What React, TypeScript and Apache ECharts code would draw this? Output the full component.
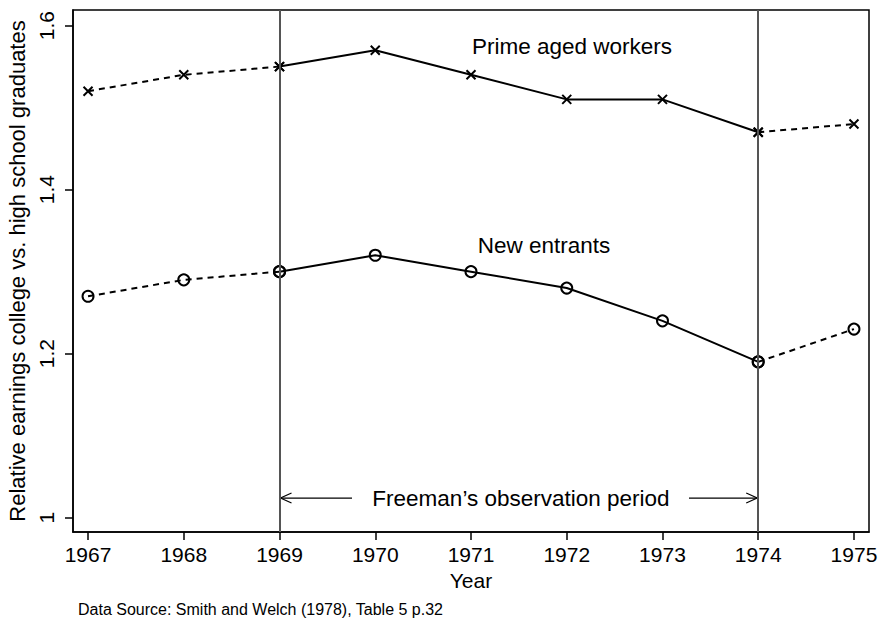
import React, { useEffect, useRef } from "react";
import * as echarts from "echarts";

const years = [1967, 1968, 1969, 1970, 1971, 1972, 1973, 1974, 1975];
const primeAged = [1.52, 1.54, 1.55, 1.57, 1.54, 1.51, 1.51, 1.47, 1.48];
const newEntrants = [1.27, 1.29, 1.3, 1.32, 1.3, 1.28, 1.24, 1.19, 1.23];
const yTicks = [1, 1.2, 1.4, 1.6];
const periodStart = 1969;
const periodEnd = 1974;

const FONT = "Liberation Sans, Arial, sans-serif";

function segments(values: number[], name: string, symbol: string, size: number, itemStyle: any) {
  const pts = years.map((y, i) => [y, values[i]]);
  const i0 = years.indexOf(periodStart);
  const i1 = years.indexOf(periodEnd);
  const parts = [
    { d: pts.slice(0, i0 + 1), type: [6, 5] as any },
    { d: pts.slice(i0, i1 + 1), type: "solid" },
    { d: pts.slice(i1), type: [6, 5] as any },
  ];
  return parts.map((p, k) => ({
    name: name + k,
    type: "line",
    data: p.d,
    symbol,
    symbolSize: size,
    showSymbol: true,
    z: 3,
    lineStyle: { color: "#000", width: 2, type: p.type },
    itemStyle,
  }));
}

export default function App() {
  const ref = useRef<HTMLDivElement>(null);
  useEffect(() => {
    document.body.style.margin = "0";
    const chart = echarts.init(ref.current!, null, { renderer: "svg" });
    const crossStyle = { color: "#000", borderColor: "#000", borderWidth: 2 };
    const circleStyle = { color: "transparent", borderColor: "#000", borderWidth: 2 };
    const series: any[] = [
      ...segments(primeAged, "prime", "path://M0,0L10,10M10,0L0,10", 9, crossStyle),
      ...segments(newEntrants, "new", "circle", 11, circleStyle),
    ];
    series.push({
      type: "line",
      data: [],
      z: 1,
      markLine: {
        silent: true,
        symbol: ["none", "none"],
        label: { show: false },
        lineStyle: { color: "#555", width: 2, type: "solid" },
        data: [{ xAxis: periodStart }, { xAxis: periodEnd }],
      },
    });
    chart.setOption({
      animation: false,
      grid: {
        left: 73,
        top: 10,
        right: 12,
        bottom: 89,
        show: true,
        borderColor: "#000",
        borderWidth: 1.5,
        outerBoundsMode: "none",
        containLabel: false,
      },
      xAxis: {
        type: "value",
        min: 1966.843,
        max: 1975.157,
        name: "Year",
        nameLocation: "middle",
        nameGap: 37,
        nameTextStyle: { fontFamily: FONT, fontSize: 21, color: "#000" },
        axisLine: { lineStyle: { color: "#000", width: 1.5 } },
        axisTick: { customValues: years, length: 8, lineStyle: { color: "#000", width: 1.5 } },
        axisLabel: {
          customValues: years,
          formatter: (v: number) => String(v),
          fontFamily: FONT,
          fontSize: 21,
          color: "#000",
          margin: 12,
        },
        splitLine: { show: false },
      },
      yAxis: {
        type: "value",
        min: 0.9826,
        max: 1.619,
        name: "Relative earnings college vs. high school graduates",
        nameLocation: "middle",
        nameGap: 39,
        nameTextStyle: { fontFamily: FONT, fontSize: 22, color: "#000" },
        axisLine: { show: true, lineStyle: { color: "#000", width: 1.5 } },
        axisTick: { show: true, customValues: yTicks, length: 8, lineStyle: { color: "#000", width: 1.5 } },
        axisLabel: {
          customValues: yTicks,
          rotate: 90,
          fontFamily: FONT,
          fontSize: 21,
          color: "#000",
          margin: 16,
        },
        splitLine: { show: false },
      },
      series,
    });

    const px = (x: number, y: number) => chart.convertToPixel({ gridIndex: 0 }, [x, y]) as number[];
    const pPrime = px(1972.055, 1.5744);
    const pNew = px(1971.762, 1.3313);
    const pFree = px(1971.522, 1.024);
    const aL0 = px(periodStart, 1.024);
    const aL1 = px(1969.757, 1.024);
    const aR0 = px(1973.277, 1.024);
    const aR1 = px(periodEnd, 1.024);
    const arrowStyle = { stroke: "#000", lineWidth: 1.2, fill: "none" };
    const txt = (p: number[], s: string) => ({
      type: "text",
      x: p[0],
      y: p[1],
      style: { text: s, fontFamily: FONT, fontSize: 22.5, fill: "#000", align: "center", verticalAlign: "middle" },
    });
    chart.setOption({
      graphic: [
        txt(pPrime, "Prime aged workers"),
        txt(pNew, "New entrants"),
        txt(pFree, "Freeman\u2019s observation period"),
        { type: "line", shape: { x1: aL0[0], y1: aL0[1], x2: aL1[0], y2: aL1[1] }, style: arrowStyle },
        {
          type: "polyline",
          shape: { points: [[aL0[0] + 12, aL0[1] - 5], [aL0[0] + 1, aL0[1]], [aL0[0] + 12, aL0[1] + 5]] },
          style: arrowStyle,
        },
        { type: "line", shape: { x1: aR0[0], y1: aR0[1], x2: aR1[0], y2: aR1[1] }, style: arrowStyle },
        {
          type: "polyline",
          shape: { points: [[aR1[0] - 12, aR1[1] - 5], [aR1[0] - 1, aR1[1]], [aR1[0] - 12, aR1[1] + 5]] },
          style: arrowStyle,
        },
        {
          type: "text",
          left: 78,
          top: 601,
          style: { text: "Data Source: Smith and Welch (1978), Table 5 p.32", fontFamily: FONT, fontSize: 16, fill: "#000" },
        },
      ],
    });
    return () => chart.dispose();
  }, []);
  return <div ref={ref} style={{ width: 881, height: 621 }} />;
}
